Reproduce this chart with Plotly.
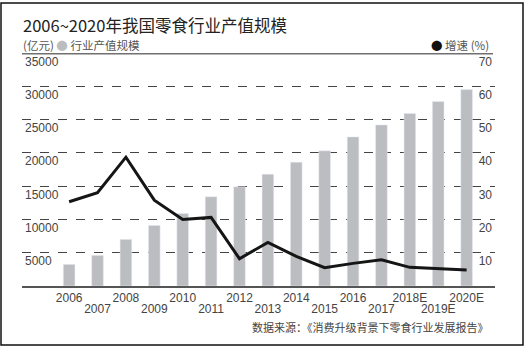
import plotly.graph_objects as go

categories = ["2006", "2007", "2008", "2009", "2010", "2011", "2012", "2013",
              "2014", "2015", "2016", "2017", "2018E", "2019E", "2020E"]
output_value = [3250, 4600, 7000, 9100, 10900, 13400, 14900, 16800,
                18600, 20300, 22400, 24200, 25900, 27700, 29500]
growth_rate = [25.3, 28.0, 38.7, 25.8, 20.0, 20.6, 8.2, 13.1,
               8.9, 5.5, 6.8, 7.9, 5.6, 5.2, 4.8]
left_ticks = [5000, 10000, 15000, 20000, 25000, 30000, 35000]
right_ticks = [10, 20, 30, 40, 50, 60, 70]

FONT = "Liberation Sans, Noto Sans CJK SC, sans-serif"
CJK = "Noto Sans CJK SC, sans-serif"
BAR = "#bcbdc0"

upper_row = categories[0::2]
lower_row = categories[1::2]

fig = go.Figure()
fig.add_trace(go.Bar(x=categories, y=output_value, marker_color=BAR,
                     width=0.41, yaxis="y", name="行业产值规模"))
fig.add_trace(go.Scatter(x=categories, y=growth_rate, mode="lines",
                         line=dict(color="#151515", width=3), yaxis="y2",
                         name="增速"))
# carrier for the second row of year labels (invisible)
fig.add_trace(go.Scatter(x=categories, y=output_value, mode="markers",
                         marker=dict(opacity=0), xaxis="x2", yaxis="y",
                         hoverinfo="skip", showlegend=False))

W, H = 527, 347
L, R, T, B = 22, 32, 53, 61
pw, ph = W - L - R, H - T - B

def px_x(x):
    return (x - L) / pw

def px_y(y):
    return (H - B - y) / ph

fig.update_layout(
    width=W, height=H,
    margin=dict(l=L, r=R, t=T, b=B),
    paper_bgcolor="white", plot_bgcolor="white",
    showlegend=False,
    font=dict(family=FONT, size=12, color="#333"),
    xaxis=dict(type="category", range=[-1.66, 15.0],
               categoryorder="array", categoryarray=categories,
               tickmode="array", tickvals=upper_row, ticktext=upper_row,
               tickangle=0,
               showgrid=False, showline=True, linecolor="#555", linewidth=1.5,
               ticks="", tickfont=dict(size=12, color="#444")),
    xaxis2=dict(type="category", range=[-1.66, 15.0], overlaying="x",
                side="bottom", anchor="y",
                categoryorder="array", categoryarray=categories,
                tickmode="array", tickvals=lower_row, ticktext=lower_row,
                tickangle=0, ticklabelstandoff=14,
                showgrid=False, showline=False, zeroline=False,
                ticks="", tickfont=dict(size=12, color="#444")),
    yaxis=dict(range=[0, 35000], tickvals=left_ticks, tickformat="d",
               ticklabelposition="inside bottom",
               showgrid=True, gridcolor="#444", griddash="dash", gridwidth=1,
               zeroline=False, showline=False, ticks="",
               tickfont=dict(size=12, color="#444")),
    yaxis2=dict(range=[0, 70], tickvals=right_ticks, overlaying="y",
                tickformat="d",
                side="right", ticklabelposition="inside bottom",
                showgrid=False, zeroline=False, showline=False, ticks="",
                tickfont=dict(size=12, color="#444")),
    shapes=[
        dict(type="line", xref="paper", yref="y", x0=0, x1=px_x(493),
             y0=35000, y1=35000, line=dict(color="#707070", width=3)),
        dict(type="rect", xref="paper", yref="paper",
             x0=px_x(1), x1=px_x(523), y0=px_y(345), y1=px_y(3),
             line=dict(color="#111", width=1.5), layer="below"),
    ],
    annotations=[
        dict(text="2006~2020年我国零食行业产值规模", xref="paper", yref="paper",
             x=px_x(21), y=px_y(25), xanchor="left", yanchor="middle",
             showarrow=False, font=dict(family=CJK, size=16.5, color="#222")),
        dict(text="(亿元) <span style='color:%s'>●</span> 行业产值规模" % BAR,
             xref="paper", yref="paper", x=px_x(21), y=px_y(44.5),
             xanchor="left", yanchor="middle", showarrow=False,
             font=dict(family=CJK, size=11.5, color="#555")),
        dict(text="<span style='color:#111'>●</span> 增速 (%)",
             xref="paper", yref="paper", x=px_x(491), y=px_y(44.5),
             xanchor="right", yanchor="middle", showarrow=False,
             font=dict(family=CJK, size=11.5, color="#555")),
        dict(text="数据来源：《消费升级背景下零食行业发展报告》",
             xref="paper", yref="paper", x=px_x(491), y=px_y(327),
             xanchor="right", yanchor="middle", showarrow=False,
             font=dict(family=CJK, size=11, color="#444")),
    ],
)

fig.write_html("out.html")
